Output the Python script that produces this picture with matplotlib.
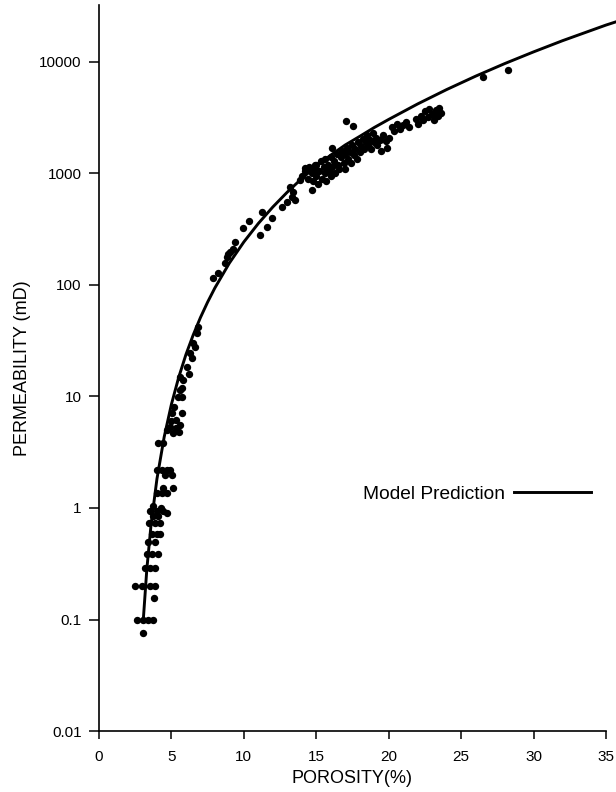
import matplotlib
matplotlib.use('Agg')
import matplotlib.pyplot as plt

plt.rcParams['font.family'] = ['Liberation Sans', 'DejaVu Sans']

por_low = [2.6, 3.06, 3.4, 3.75, 3.06,
           2.49, 2.95, 3.52, 3.87, 3.8,
           3.18, 3.52, 3.87,
           3.29, 3.64, 4.09,
           3.4, 3.87,
           3.64, 3.98, 4.2,
           3.47, 3.87, 4.21,
           3.75, 4.1, 4.67,
           3.52, 3.98, 4.44, 3.7, 4.3,
           3.98, 4.32, 4.67,
           4.44, 5.13,
           3.98, 4.32, 4.67, 4.9,
           4.56, 5.01,
           4.1, 4.44,
           4.7, 4.9, 5.1, 5.3, 5.5, 5.6, 5.0, 5.3,
           5.01, 5.71, 5.2,
           5.48, 5.71, 5.71,
           5.6, 5.82, 5.6, 6.05, 6.28, 6.51, 6.74, 6.86, 6.2, 6.4, 6.6]
perm_low = [0.1, 0.1, 0.1, 0.1, 0.076,
            0.2, 0.2, 0.2, 0.2, 0.155,
            0.29, 0.29, 0.29,
            0.39, 0.39, 0.39,
            0.5, 0.5,
            0.59, 0.59, 0.59,
            0.73, 0.73, 0.73,
            0.84, 0.84, 0.9,
            0.94, 0.94, 0.94, 1.05, 1.0,
            1.36, 1.36, 1.36,
            1.5, 1.5,
            2.2, 2.2, 2.2, 2.2,
            1.98, 1.98,
            3.8, 3.8,
            5.0, 5.3, 4.7, 5.2, 4.8, 5.5, 6.0, 6.2,
            7.1, 7.1, 8.0,
            9.9, 9.9, 11.9,
            11.4, 14.1, 15.0, 18.5, 24.5, 30.0, 37.0, 42.0, 16.0, 22.0, 28.0]

por_mid = [7.89, 8.24, 8.7, 8.81, 9.04, 9.27, 9.39, 8.93,
           9.96, 10.38, 11.23, 11.11, 11.58, 11.92,
           12.61, 12.96, 13.3, 13.53, 13.19, 13.41,
           13.88, 14.22, 14.68, 14.91]
perm_mid = [115, 127, 156, 179, 199, 212, 245, 190,
            322, 377, 455, 280, 334, 397,
            505, 560, 618, 580, 760, 685,
            875, 1108, 710, 1190]

por_high = [14.0, 14.2, 14.4, 14.5, 14.7, 14.8, 14.9, 15.0, 15.0,
            15.1, 15.2, 15.3, 15.4, 15.5, 15.6, 15.6, 15.7, 15.8, 15.9, 16.0, 16.0,
            16.1, 16.2, 16.3, 16.4, 16.5, 16.6, 16.7, 16.8, 16.9, 17.0, 17.0,
            17.1, 17.2, 17.3, 17.4, 17.5, 17.6, 17.7, 17.8, 17.9, 18.0,
            18.1, 18.2, 18.3, 18.4, 18.5, 18.6, 18.7, 18.8, 18.9, 19.0,
            19.1, 19.2, 19.4, 19.6, 19.8, 20.0, 19.5, 19.9,
            20.2, 20.4, 20.6, 20.8, 21.0, 21.2, 21.4,
            21.9, 22.0, 22.2, 22.4, 22.5, 22.7, 22.8, 23.0, 23.1, 23.3, 23.4, 23.5, 23.6,
            16.06, 17.05, 17.51, 26.53, 28.26]
perm_high = [950, 1050, 900, 1150, 1000, 850, 1100, 950, 1200,
             800, 1050, 1300, 900, 1150, 1000, 1350, 850, 1200, 1050, 1400, 950,
             1150, 1300, 1000, 1500, 1200, 1100, 1400, 1600, 1250, 1500, 1100,
             1700, 1350, 1550, 1250, 1800, 1450, 1650, 1350, 1900, 1550,
             1750, 2050, 1650, 1900, 2200, 1800, 2000, 1650, 2300, 1900,
             2100, 1800, 2000, 2200, 1950, 2100, 1600, 1700,
             2600, 2400, 2800, 2500, 2700, 2900, 2600,
             3100, 2800, 3300, 3000, 3600, 3200, 3800, 3400, 3000, 3700, 3300, 3900, 3500,
             1690, 2950, 2690, 7250, 8530]

#Model prediction curve
model_por = [3.06, 3.3, 3.6, 4.0, 4.5, 5.0, 5.5, 6.0, 6.5, 7.0, 7.5, 8.0, 9.0, 10.0,
             11.0, 12.0, 13.0, 14.0, 15.0, 16.0, 17.0, 18.0, 19.0, 20.0, 22.0, 24.0,
             26.0, 28.0, 30.0, 32.0, 35.0, 35.7]
model_perm = [0.1, 0.28, 0.72, 1.82, 4.33, 8.5, 14.8, 23.7, 35.5, 50.9, 70.2, 94, 157, 243,
              356, 500, 680, 900, 1160, 1460, 1800, 2150, 2580, 3050, 4200, 5650,
              7450, 9650, 12300, 15500, 21400, 22900]

y_ticks = [0.01, 0.1, 1, 10, 100, 1000, 10000]
y_labels = ['0.01', '0.1', '1', '10', '100', '1000', '10000']
x_ticks = [0, 5, 10, 15, 20, 25, 30, 35]

fig = plt.figure(figsize=(6.16, 7.92), dpi=100)
ax = fig.add_axes([0.1607, 0.077, 0.823, 0.9167])

por = por_low + por_mid + por_high
perm = perm_low + perm_mid + perm_high
ax.plot(por, perm, 'o', color='black', markersize=5.3, markeredgewidth=0)
ax.plot(model_por, model_perm, '-', color='black', linewidth=2.1, clip_on=False,
        label='Model Prediction')

ax.set_yscale('log')
ax.set_xlim(0, 35)
ax.set_ylim(0.01, 32400)
ax.set_yticks(y_ticks)
ax.set_yticklabels(y_labels)
ax.minorticks_off()
ax.set_xticks(x_ticks)
ax.tick_params(axis='y', direction='out', length=7.5, width=1.1, labelsize=11, pad=5)
ax.tick_params(axis='x', direction='out', length=6, width=1.1, labelsize=11, pad=8)

for side in ['top', 'right']:
    ax.spines[side].set_visible(False)
for side in ['left', 'bottom']:
    ax.spines[side].set_linewidth(1.2)

ax.set_xlabel('POROSITY(%)', fontsize=13, labelpad=4)
ax.set_ylabel('PERMEABILITY (mD)', fontsize=13, labelpad=6)

ax.legend(loc='center right', bbox_to_anchor=(0.970, 0.326), frameon=False,
          markerfirst=False, handlelength=4.0, fontsize=13.8,
          borderpad=0, borderaxespad=0, handletextpad=0.5)

fig.savefig('out.png', dpi=100)
